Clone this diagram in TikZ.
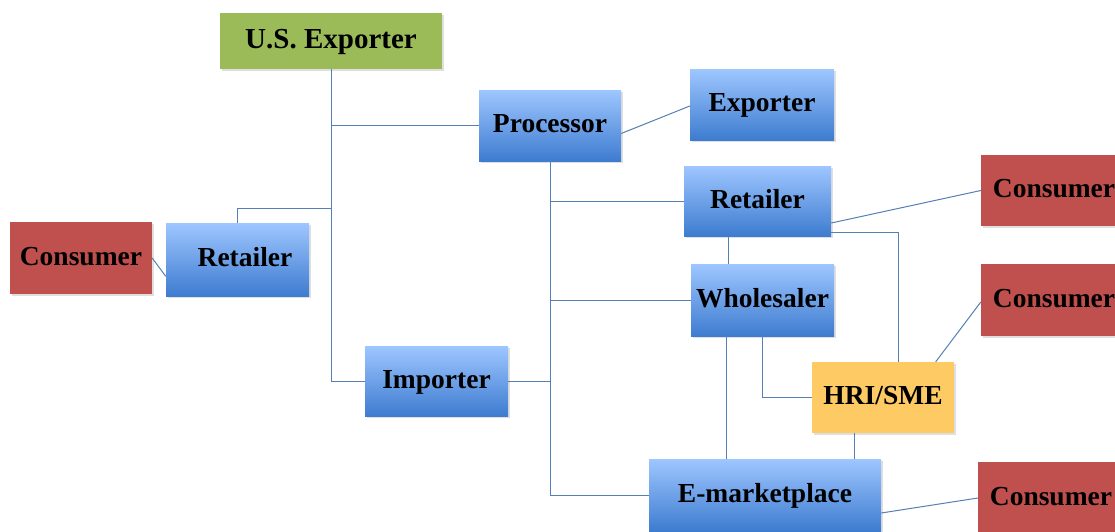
\documentclass[tikz,border=0pt]{standalone}
\usepackage{fontspec}
\setmainfont{Liberation Serif}
\usetikzlibrary{calc,shadows}
\definecolor{lnk}{RGB}{84,128,180}
\definecolor{bluetop}{RGB}{158,198,255}
\definecolor{bluebot}{RGB}{62,124,208}
\definecolor{greenbox}{RGB}{155,187,89}
\definecolor{redbox}{RGB}{192,80,77}
\definecolor{yellowbox}{RGB}{253,202,100}
\begin{document}
\begin{tikzpicture}[x=1pt,y=-1pt,
  box/.style={rectangle, inner sep=0pt, text height=19pt, text depth=5pt,
    font=\fontsize{27.5}{30}\selectfont\bfseries,
    drop shadow={shadow xshift=1.5pt, shadow yshift=-2pt, opacity=0.25}},
  bluebox/.style={box, top color=bluetop, bottom color=bluebot},
  greenb/.style={box, fill=greenbox},
  redb/.style={box, fill=redbox},
  yellowb/.style={box, fill=yellowbox},
  link/.style={draw=lnk, line width=1pt}
]
\clip (0,0) rectangle (1115,531);
\fill[white] (0,0) rectangle (1115,531);

% nodes
\node[greenb, minimum width=222pt, minimum height=56pt, font=\fontsize{29}{32}\selectfont\bfseries] (usexp) at (331,41) {U.S.\ Exporter};
\node[bluebox, minimum width=142pt, minimum height=71pt] (proc) at (550,125.5) {Processor};
\node[bluebox, minimum width=144pt, minimum height=71pt] (exporter) at (762,104.5) {Exporter};
\node[bluebox, minimum width=147pt, minimum height=70pt] (retR) at (757.5,201) {Retailer};
\node[bluebox, minimum width=143pt, minimum height=72pt] (whole) at (762.5,300) {Wholesaler};
\node[yellowb, minimum width=142pt, minimum height=71pt] (hri) at (883,397.5) {HRI/SME};
\node[bluebox, minimum width=232pt, minimum height=72pt] (emk) at (765,495) {E-marketplace};
\node[redb, minimum width=146pt, minimum height=71pt] (cons1) at (1054,190.5) {Consumer};
\node[redb, minimum width=146pt, minimum height=72pt] (cons2) at (1054,300) {Consumer};
\node[redb, minimum width=146pt, minimum height=72pt] (cons3) at (1051,498) {Consumer};
\node[redb, minimum width=142pt, minimum height=72pt] (consL) at (81,258) {Consumer};
\node[bluebox, minimum width=143pt, minimum height=73pt] (retL) at (237.5,259.5) {\hspace*{15pt}Retailer};
\node[bluebox, minimum width=143pt, minimum height=70pt] (imp) at (436.5,381) {Importer};

% junction coordinates
\coordinate (jL) at (331,208);

% connectors
\draw[link] (usexp.south) |- (imp.west);
\draw[link] (usexp.south |- proc.west) -- (proc.west);
\draw[link] (jL) -| (retL.north);
\draw[link] (consL.east) -- ($(retL.south west)!0.27!(retL.north west)$);
\draw[link] (proc.south) |- (emk.west);
\draw[link] (proc.south |- retR.west) -- (retR.west);
\draw[link] (proc.south |- whole.west) -- (whole.west);
\draw[link] (imp.east) -- (proc.south |- imp.east);
\draw[link] ([yshift=-8pt]proc.east) -- ([yshift=-1.5pt]exporter.west);
\draw[link] ([yshift=-22pt]retR.east) -- (cons1.west);
\draw[link] ([yshift=-31pt]retR.east) -| ($(hri.north west)!0.61!(hri.north east)$);
\coordinate (rw) at ($(retR.south west)!0.3!(retR.south east)$);
\draw[link] (rw) -- (rw |- whole.north);
\coordinate (we) at ($(whole.south west)!0.25!(whole.south east)$);
\draw[link] (we) -- (we |- emk.north);
\draw[link] (whole.south) |- (hri.west);
\draw[link] ($(hri.north west)!0.87!(hri.north east)$) -- ([yshift=-2pt]cons2.west);
\coordinate (he) at ($(hri.south west)!0.3!(hri.south east)$);
\draw[link] (he) -- (he |- emk.north);
\draw[link] ([yshift=-18pt]emk.east) -- (cons3.west);
\end{tikzpicture}
\end{document}
